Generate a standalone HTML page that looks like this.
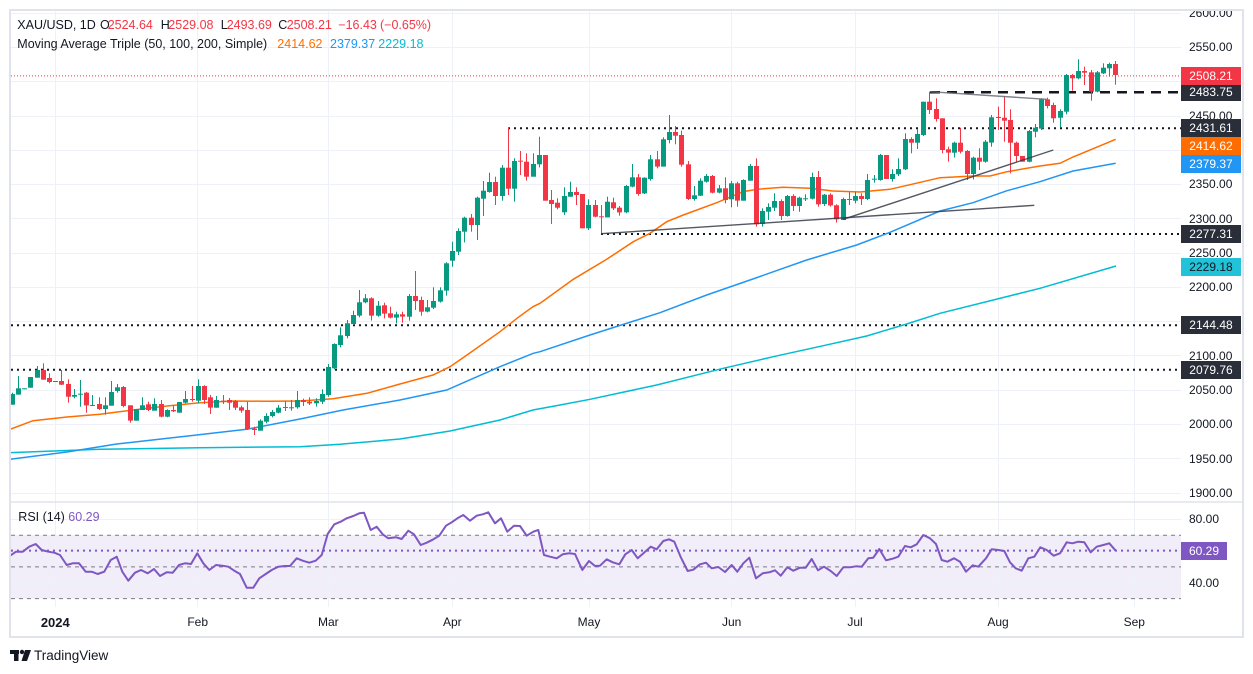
<!DOCTYPE html>
<html><head><meta charset="utf-8"><style>
body{margin:0;background:#fff;width:1253px;height:674px;overflow:hidden;position:relative;font-family:"Liberation Sans",Arial,sans-serif;color:#131722}
.lg{position:absolute;font-size:12.5px;line-height:15px;white-space:nowrap}
.ax{position:absolute;left:1189px;font-size:12px;line-height:14px;white-space:nowrap;color:#131722}
.bx{position:absolute;left:1181px;width:60px;height:18px;line-height:18px;font-size:12px;text-align:center;color:#fff}
.tm{position:absolute;top:615px;font-size:12px;line-height:15px;width:60px;text-align:center;color:#131722}
.r{color:#f23645}
</style></head><body>
<svg width="1253" height="674" viewBox="0 0 1253 674" style="position:absolute;left:0;top:0">
<defs>
<clipPath id="cp"><rect x="11" y="11" width="1170" height="490"/></clipPath>
<clipPath id="cr"><rect x="11" y="503" width="1170" height="104"/></clipPath>
</defs>
<rect x="11" y="535.2" width="1170" height="63.4" fill="#f1edf9"/>
<g stroke="#eef1f7" stroke-width="1">
<line x1="11" x2="1181" y1="13.5" y2="13.5"/><line x1="11" x2="1181" y1="47.5" y2="47.5"/><line x1="11" x2="1181" y1="81.5" y2="81.5"/><line x1="11" x2="1181" y1="116.5" y2="116.5"/><line x1="11" x2="1181" y1="150.5" y2="150.5"/><line x1="11" x2="1181" y1="184.5" y2="184.5"/><line x1="11" x2="1181" y1="218.5" y2="218.5"/><line x1="11" x2="1181" y1="253.5" y2="253.5"/><line x1="11" x2="1181" y1="287.5" y2="287.5"/><line x1="11" x2="1181" y1="321.5" y2="321.5"/><line x1="11" x2="1181" y1="355.5" y2="355.5"/><line x1="11" x2="1181" y1="390.5" y2="390.5"/><line x1="11" x2="1181" y1="424.5" y2="424.5"/><line x1="11" x2="1181" y1="458.5" y2="458.5"/><line x1="11" x2="1181" y1="493.5" y2="493.5"/>
<line x1="11" x2="1181" y1="519.5" y2="519.5"/><line x1="11" x2="1181" y1="582.5" y2="582.5"/>
<line x1="55.5" x2="55.5" y1="11" y2="607"/><line x1="197.5" x2="197.5" y1="11" y2="607"/><line x1="328.5" x2="328.5" y1="11" y2="607"/><line x1="452.5" x2="452.5" y1="11" y2="607"/><line x1="589.5" x2="589.5" y1="11" y2="607"/><line x1="731.5" x2="731.5" y1="11" y2="607"/><line x1="855.5" x2="855.5" y1="11" y2="607"/><line x1="998.5" x2="998.5" y1="11" y2="607"/><line x1="1134.5" x2="1134.5" y1="11" y2="607"/>
</g>
<rect x="10" y="10" width="1233" height="627" fill="none" stroke="#e0e3eb" stroke-width="2"/>
<line x1="10" x2="1243" y1="502" y2="502" stroke="#e0e3eb" stroke-width="1.5"/>
<!-- RSI bands -->
<g stroke="#787b86" stroke-width="1" stroke-dasharray="4 4">
<line x1="11" x2="1181" y1="535.2" y2="535.2"/><line x1="11" x2="1181" y1="566.9" y2="566.9"/><line x1="11" x2="1181" y1="598.6" y2="598.6"/>
</g>
<line x1="11" x2="1181" y1="550.6" y2="550.6" stroke="#7e57c2" stroke-width="2" stroke-dasharray="2 4"/>
<g clip-path="url(#cr)">
<polyline fill="none" stroke="#7e57c2" stroke-width="2" stroke-linejoin="round" points="10,555.7 16,551.7 22.7,551.7 29.3,546.7 35.7,544 41.7,550 48.3,551.7 54.3,552.7 60,555 66.7,565 72.7,563.3 79,563.3 85.7,571.7 91.7,571.7 97.7,574 104.3,571.7 110.7,560 116.7,556.7 122.3,571.7 128.3,580.7 135,572.7 141,570 147.7,573.3 154,569 160,576 166.7,572.3 172.7,572.7 179,565 185,563.3 191,564 197.3,553.3 203.3,563.3 209.3,570 216,565 222.3,565.7 228.3,566.7 234.3,570.7 240,574 246.7,587.7 253.3,587.7 259.3,578.3 265.7,574 271.7,570 278.3,566.7 285,566 290,566 296.7,558.3 302.7,560.7 309.3,562.7 315.7,560.7 321.7,555 327.7,534 334.3,524.3 340.7,521.7 346.7,518.3 353.3,516 359.3,513.3 364,512.7 370.7,530 376.7,526.7 382.7,534.3 388.3,538.3 396,537.3 401.7,539 408.3,530.7 414,534.3 420.7,545 426.7,542.7 432.7,539.7 439.3,535.7 446,525.7 451.7,522.3 458.3,517.7 463.3,515 470,520.7 476.7,515.7 482.7,514.3 488.3,512.3 495,523.3 501,518.3 507.3,531.7 514,525.7 520,526 526.7,535.7 533.3,531.7 538.3,530 544,555 550,556.7 556.7,558.3 562.7,554.3 569.3,553.3 575,554 582.3,570 589,561 595,566 600,565.7 606.7,559.3 612.7,562.3 619.3,564.3 625.3,554.3 631.7,550 637.7,558.3 644,552.7 650.7,546.7 656.7,549.3 663.3,541 669,539.3 674.3,541.7 681,557.7 687.7,571 693.3,569.7 700,564.3 706,562.7 711.7,568.3 718.3,567 725,572 731.7,565 737.3,571.7 743.3,563.3 749.3,557.7 756,578.3 762.7,573.3 769.3,572.3 775,570.3 780.7,575.7 787.3,567.3 793.3,570.7 800,567.7 805.7,567.7 811.7,559 818,570.3 824,566.7 830.7,571 836.7,576 843.3,567.3 850,567.3 856,566.3 861.7,566.7 868.3,558.3 873.3,557.7 879.3,549 886,560.3 892.7,558.7 898.3,556.7 905,546 910.7,547.3 916.7,544.3 923.3,535 930,538.3 936,544 941.7,560 947.3,561.7 954,558.3 960,561.7 966,571.7 972.7,565.3 978.3,566.7 986,558.3 991.7,549.3 998.3,550 1004.3,551 1010,562.3 1015.7,568.3 1021.7,570.7 1028.3,558.3 1034.3,556.7 1040.3,547.3 1046.7,550 1053.7,555.7 1060,553.3 1066.7,542.3 1072.3,543.3 1078.3,541.7 1084.3,542.3 1090.7,552.3 1096.7,546.7 1103.3,545 1109.3,543.3 1115.7,550.7"/>
</g>
<g clip-path="url(#cp)">
<!-- level lines -->
<g stroke="#131722" stroke-width="2" stroke-dasharray="2 4">
<line x1="11" x2="1181" y1="325.3" y2="325.3"/>
<line x1="11" x2="1181" y1="369.7" y2="369.7"/>
<line x1="508" x2="1181" y1="128.2" y2="128.2"/>
<line x1="601" x2="1181" y1="234" y2="234"/>
</g>
<line x1="930" x2="1181" y1="92.2" y2="92.2" stroke="#131722" stroke-width="2.5" stroke-dasharray="10 7"/>
<line x1="11" x2="1181" y1="75.9" y2="75.9" stroke="#f23645" stroke-width="1" stroke-dasharray="1 2"/>
<!-- moving averages -->
<polyline fill="none" stroke="#00bcd4" stroke-width="1.5" points="10,452.7 100,449.3 200,447.7 300,446.7 340,444.3 400,439 450,431 500,420 533,410 560,405 590,399.3 656.7,385 723.3,368.3 773.3,356.7 823.3,345.7 866.7,336 906.7,324 940,313.3 1040,288.3 1116,266"/>
<polyline fill="none" stroke="#2196f3" stroke-width="1.5" points="10,459.3 67,452 116.7,444 196.7,435 246.7,429.3 300,419 343,410 400,400 446.7,390 500,366.7 533.3,353.3 540,351.7 590,335 660,312.7 706.7,295 750,280 806.7,260 856.7,245 890,232.3 940,211 973,202.7 1007,190.7 1040,181.7 1073,171 1115.7,163.3"/>
<polyline fill="none" stroke="#ff6d00" stroke-width="1.5" points="10,429.3 33,420.7 67,417 100,414.3 133,410 167,406 200,402.7 233,401 267,401.3 300,401 333,398.8 367,393.3 400,384 433,375 450,366.7 467,355 500,331.7 517,318.3 533,306.7 540,303.3 573.3,279.3 606.7,259.3 633.3,241.7 650,233.3 666.7,221.7 683.3,215 716.7,202.7 743,191.7 757,189.3 783,187.3 810,188.3 833,191 860,192 890,189.3 923,181.7 940,177.7 973,176 990,176 1007,171.7 1040,166 1060,163.3 1073,157 1115.7,139.3"/>
<g id="cd"></g>
<!-- trend lines -->
<g stroke="#363a45" stroke-width="1.4" stroke-opacity="0.85" fill="none">
<line x1="601" y1="233.7" x2="1034.3" y2="205.3"/>
<line x1="843.3" y1="219.3" x2="1053.3" y2="150"/>
<line x1="930" y1="91.7" x2="1046.7" y2="99.3" stroke="#6a6d78"/>
</g>
</g>
<!-- logo -->
<g fill="#131722">
<rect x="10" y="650" width="9" height="4"/><rect x="14" y="650" width="4.5" height="11"/>
<circle cx="22" cy="652" r="2.2"/>
<polygon points="25,650 31,650 27,661 21.5,661"/>
</g>
</svg>
<script>
(function(){
var groups=[
[330,0,"g192 224 188 224|g175 194 138 194|g175 176 175 176|g141 173 141 173|g120 143 108 143|r120 149 100 149|r144 156 130 160|g153 154 153 154|r153 164 120 165|r162 200 148 218|g195 200 177 205|g191 193 150 230|r188 226 186 248|g225 227 195 228|r222 237 202 240|g226 237 202 254|g186 227 153 227|g172 183 162 188|r171 228 168 232|r226 272 226 278|g237 272 237 272|g226 240 202 240|r223 240 215 243|g222 242 205 242|r222 260 210 262|g240 260 238 262|r240 244 226 246|g216 248 216 248|g207 218 183 220|r207 209 168 215|g168 212 148 220|r168 210 166 222|r202 233 195 252|g210 233 198 233|r212 214 195 222|r210 218 204 240|r213 233 210 240|r232 242 227 248|r240 298 215 300|r296 300 290 315|g272 302 268 302|g258 275 250 280|g246 258 240 262|g233 248 225 250|r231 233 213 243|g232 234 210 242|g210 232 183 236"],
[110,47,"r870 876 866 888|r875 880 862 885|g873 880 865 890|g852 875 838 882|g771 855 762 860|g702 775 700 778|g676 705 652 712|g640 678 630 685|g615 642 602 645|g577 617 540 622|g565 577 552 580|r565 617 562 632|g587 617 573 620|r586 611 578 625|r610 623 590 625|g613 623 605 640|r613 620 605 638|g558 620 552 632|r558 573 483 600|r570 605 560 617|g592 605 570 607|g573 593 532 597|g541 575 532 578|g460 542 457 557|g423 452 395 470|g363 425 355 435|g323 365 320 397|r323 345 312 365|g263 345 260 390|g242 266 213 318|g216 246 188 248|r216 258 200 285|g173 258 165 272|r173 236 52 255|g153 236 145 275|r152 155 123 195|r155 200 130 212|g162 200 130 200|g135 163 80 172|r135 272 135 272"],
[100,87,"r300 312 270 372|r308 323 295 328|g288 337 262 345|g276 290 245 290|r276 285 262 315|r282 385 282 385|g315 385 298 390|r315 350 300 352|r349 351 315 400|g305 352 290 352|r307 325 293 330|r323 337 318 347|g258 337 255 340|g232 260 192 262|r232 282 222 287|g233 280 232 282|g178 237 165 242|r178 200 153 205|g118 200 112 200|g96 120 45 130|r96 107 78 133|r105 194 92 200|r193 297 183 300|g286 297 258 302|g242 287 235 288|g228 245 222 248|r228 278 225 280|g265 278 255 280|r265 300 232 310|g250 298 243 322|r250 302 245 320|g240 302 238 302|g198 242 192 242|r198 373 175 380|g333 372 325 380|g321 335 310 360|g303 323 280 333|r303 348 298 360|g288 348 285 350|r288 318 283 333|g293 318 290 335|g295 297 283 303|g231 296 218 298|r231 313 213 320|g284 312 282 318|r284 316 280 320|r316 358 313 368"],
[50,134,"g447 510 443 510|r447 449 425 465|g438 452 425 460|r438 447 430 465|g390 447 372 450|g386 388 375 398|g315 390 312 392|r315 387 315 387|g372 387 358 395|g357 373 325 378|g267 358 250 360|r267 278 262 310|g252 278 238 297|g155 255 155 258|r155 180 125 192|r177 207 145 215|r205 300 205 310|r298 308 290 335|g278 308 275 322|r278 305 233 310|r303 372 300 390|g323 372 320 388|r323 335 295 360|g275 335 270 338|g202 278 195 290|r201 203 170 240|r203 212 138 275|r210 278 178 370|r278 318 275 335|r318 335 318 335|g243 335 240 337|g233 245 222 262|g148 236 145 240|r148 168 143 175|r165 205 158 218|g183 203 178 233|g75 185 72 193|r75 85 72 122|g63 85 28 88|r63 68 50 105|r67 125 60 152|g67 125 63 127|g53 70 40 72|g42 55 38 80|r42 75 33 104"]
];
var h='';
groups.forEach(function(gr){
 var y0=gr[0],s=gr[1];
 gr[2].split('|').forEach(function(it,k){
  var c=it[0]=='g'?'#089981':'#f23645';
  var n=it.slice(1).split(' ').map(Number);
  var i=s+k;
  var x=Math.round(12.2+6.2*i-0.5);
  var bt=y0+n[0]/3,bb=y0+n[1]/3,wt=y0+n[2]/3,wb=y0+n[3]/3;
  h+='<rect x="'+x+'" y="'+wt.toFixed(1)+'" width="1" height="'+Math.max(1,wb-wt).toFixed(1)+'" fill="'+c+'"/>';
  h+='<rect x="'+(x-2)+'" y="'+bt.toFixed(1)+'" width="5" height="'+Math.max(1,bb-bt).toFixed(1)+'" fill="'+c+'"/>';
 });
});
document.getElementById('cd').innerHTML=h;
})();
</script>

<!-- legend -->
<div class="lg" style="left:17.3px;top:17.5px">XAU/USD, 1D</div>
<div class="lg" style="left:100px;top:17.5px">O</div><div class="lg r" style="left:107.7px;top:17.5px">2524.64</div>
<div class="lg" style="left:160.7px;top:17.5px">H</div><div class="lg r" style="left:168.3px;top:17.5px">2529.08</div>
<div class="lg" style="left:220.7px;top:17.5px">L</div><div class="lg r" style="left:226.7px;top:17.5px">2493.69</div>
<div class="lg" style="left:278.3px;top:17.5px">C</div><div class="lg r" style="left:286.7px;top:17.5px">2508.21</div>
<div class="lg r" style="left:338.3px;top:17.5px">−16.43</div>
<div class="lg r" style="left:380px;top:17.5px">(−0.65%)</div>
<div class="lg" style="left:17.3px;top:36.5px">Moving Average Triple (50, 100, 200, Simple)</div>
<div class="lg" style="left:277.3px;top:36.5px;color:#ff6d00">2414.62</div>
<div class="lg" style="left:330px;top:36.5px;color:#2196f3">2379.37</div>
<div class="lg" style="left:378.3px;top:36.5px;color:#00bcd4">2229.18</div>
<div class="lg" style="left:18.3px;top:510px">RSI (14)</div>
<div class="lg" style="left:68.3px;top:510px;color:#7e57c2">60.29</div>

<!-- price axis -->
<div style="position:absolute;left:1181px;top:11px;width:62px;height:490px;overflow:hidden">
<div class="ax" style="left:8px;top:-5px">2600.00</div>
</div>
<div class="ax" style="top:40.3px">2550.00</div>
<div class="ax" style="top:109px">2450.00</div>
<div class="ax" style="top:177.4px">2350.00</div>
<div class="ax" style="top:211.7px">2300.00</div>
<div class="ax" style="top:246px">2250.00</div>
<div class="ax" style="top:280.3px">2200.00</div>
<div class="ax" style="top:348.9px">2100.00</div>
<div class="ax" style="top:383.1px">2050.00</div>
<div class="ax" style="top:417.4px">2000.00</div>
<div class="ax" style="top:451.7px">1950.00</div>
<div class="ax" style="top:486px">1900.00</div>
<div class="ax" style="top:512.3px">80.00</div>
<div class="ax" style="top:575.7px">40.00</div>

<div class="bx" style="top:83.2px;background:#2a2e39">2483.75</div>
<div class="bx" style="top:66.5px;background:#f23645">2508.21</div>
<div class="bx" style="top:118.8px;background:#2a2e39">2431.61</div>
<div class="bx" style="top:136.8px;background:#ff6d00">2414.62</div>
<div class="bx" style="top:155px;background:#2196f3">2379.37</div>
<div class="bx" style="top:225.3px;background:#2a2e39">2277.31</div>
<div class="bx" style="top:258.3px;background:#22c3d8;color:#131722">2229.18</div>
<div class="bx" style="top:316.3px;background:#2a2e39">2144.48</div>
<div class="bx" style="top:360.7px;background:#2a2e39">2079.76</div>
<div class="bx" style="top:542.3px;width:46px;background:#7e57c2">60.29</div>

<!-- time axis -->
<div class="tm" style="left:25.3px;font-weight:bold;font-size:13px">2024</div>
<div class="tm" style="left:167.7px">Feb</div>
<div class="tm" style="left:298.3px">Mar</div>
<div class="tm" style="left:422.3px">Apr</div>
<div class="tm" style="left:559px">May</div>
<div class="tm" style="left:701.7px">Jun</div>
<div class="tm" style="left:825px">Jul</div>
<div class="tm" style="left:968px">Aug</div>
<div class="tm" style="left:1104.3px">Sep</div>

<div style="position:absolute;left:34px;top:648px;font-size:13.5px;line-height:16px;color:#131722">TradingView</div>
</body></html>
